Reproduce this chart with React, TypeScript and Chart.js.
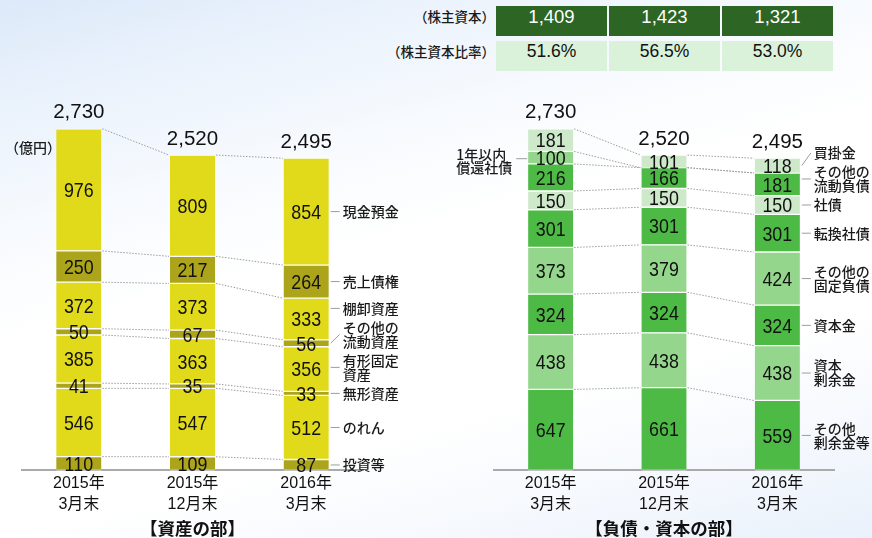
import React, { useEffect, useRef } from "react";
import { Chart, registerables } from "chart.js";

Chart.register(...registerables);

// ---------------- data ----------------
const periodLabels = [
  ["2015年", "3月末"],
  ["2015年", "12月末"],
  ["2016年", "3月末"],
];

const equityValues = [1409, 1423, 1321];
const equityRatios = [51.6, 56.5, 53.0];

// 資産の部 (bottom -> top)
const investments = [110, 109, 87];
const goodwill = [546, 547, 512];
const intangibleAssets = [41, 35, 33];
const tangibleAssets = [385, 363, 356];
const otherCurrentAssets = [50, 67, 56];
const inventories = [372, 373, 333];
const receivables = [250, 217, 264];
const cashDeposits = [976, 809, 854];
const totalAssets = [2730, 2520, 2495];

// 負債・資本の部 (bottom -> top)
const otherSurplus = [647, 661, 559];
const capitalSurplus = [438, 438, 438];
const capitalStock = [324, 324, 324];
const otherFixedLiabilities = [373, 379, 424];
const convertibleBonds = [301, 301, 301];
const bonds = [150, 150, 150];
const otherCurrentLiabilities = [216, 166, 181];
const currentBonds = [100, 0, 0];
const payables = [181, 101, 118];
const totalLiabEquity = [2730, 2520, 2495];

// ---------------- styles ----------------
const YELLOW = "#e0da1b";
const OLIVE = "#aca41a";
const PALE = "#cde9ca";
const MID = "#95d68d";
const GREEN = "#4dba46";

type Series = { name: string; data: number[]; color: string; side?: "left" | "right" };

const assetSeries: Series[] = [
  { name: "投資等", data: investments, color: OLIVE },
  { name: "のれん", data: goodwill, color: YELLOW },
  { name: "無形資産", data: intangibleAssets, color: OLIVE },
  { name: "有形固定\n資産", data: tangibleAssets, color: YELLOW },
  { name: "その他の\n流動資産", data: otherCurrentAssets, color: OLIVE },
  { name: "棚卸資産", data: inventories, color: YELLOW },
  { name: "売上債権", data: receivables, color: OLIVE },
  { name: "現金預金", data: cashDeposits, color: YELLOW },
];

const liabSeries: Series[] = [
  { name: "その他\n剰余金等", data: otherSurplus, color: GREEN },
  { name: "資本\n剰余金", data: capitalSurplus, color: MID },
  { name: "資本金", data: capitalStock, color: GREEN },
  { name: "その他の\n固定負債", data: otherFixedLiabilities, color: MID },
  { name: "転換社債", data: convertibleBonds, color: GREEN },
  { name: "社債", data: bonds, color: PALE },
  { name: "その他の\n流動負債", data: otherCurrentLiabilities, color: GREEN },
  { name: "1年以内\n償還社債", data: currentBonds, color: MID, side: "left" },
  { name: "買掛金", data: payables, color: PALE },
];

const JP = "'Noto Sans CJK JP', 'Noto Sans', sans-serif";
const NUM = "'Liberation Sans', Arial, 'Noto Sans CJK JP', sans-serif";

function hasNarrow(): boolean {
  try {
    const c = document.createElement("canvas").getContext("2d");
    if (!c) return false;
    c.font = "40px 'Liberation Sans Narrow', monospace";
    const a = c.measureText("0123456789").width;
    c.font = "40px monospace";
    const b = c.measureText("0123456789").width;
    return Math.abs(a - b) > 0.5;
  } catch (e) {
    return false;
  }
}

function makeDecor(series: Series[], totals: number[], title: string, unit: string | null, narrow: boolean) {
  return {
    id: "decor",
    afterDatasetsDraw(chart: any) {
      const ctx: CanvasRenderingContext2D = chart.ctx;
      const n = chart.data.labels.length;
      const metas = series.map((_, d) => chart.getDatasetMeta(d));
      const els = metas.map((m: any) =>
        m.data.map((e: any) => e.getProps(["x", "y", "base", "width"], true))
      );
      ctx.save();

      // dotted connectors
      ctx.strokeStyle = "#9c9c9c";
      ctx.lineWidth = 1;
      ctx.setLineDash([1.5, 1.5]);
      els.forEach((row: any[]) => {
        for (let i = 0; i < n - 1; i++) {
          const a = row[i];
          const b = row[i + 1];
          ctx.beginPath();
          ctx.moveTo(a.x + a.width / 2 + 1, a.y);
          ctx.lineTo(b.x - b.width / 2 - 1, b.y);
          ctx.stroke();
        }
      });
      ctx.setLineDash([]);

      // segment values
      ctx.fillStyle = "#111";
      ctx.textAlign = "center";
      ctx.textBaseline = "middle";
      ctx.font = narrow ? "21px 'Liberation Sans Narrow', sans-serif" : `21px ${NUM}`;
      series.forEach((s, d) => {
        s.data.forEach((v, i) => {
          if (!v) return;
          const e = els[d][i];
          const cy = (e.y + e.base) / 2 + 1.5;
          ctx.save();
          ctx.translate(e.x, cy);
          if (!narrow) ctx.scale(0.85, 1);
          ctx.fillText(String(v), 0, 0);
          ctx.restore();
        });
      });

      // totals
      ctx.font = `20.5px ${NUM}`;
      ctx.fillStyle = "#111";
      for (let i = 0; i < n; i++) {
        let top = Infinity;
        let x = 0;
        els.forEach((row: any[]) => {
          if (row[i].y < top) top = row[i].y;
          x = row[i].x;
        });
        ctx.fillText(totals[i].toLocaleString("en-US"), x, top - 16);
      }

      // right-side labels (last bar)
      const LH = 14;
      const GAP = 5;
      const last = n - 1;
      const items: any[] = [];
      series.forEach((s, d) => {
        if (s.side === "left") return;
        const v = s.data[last];
        if (!v) return;
        const e = els[d][last];
        const lines = s.name.split("\n");
        items.push({ e, lines, mid: (e.y + e.base) / 2, h: lines.length * LH });
      });
      items.sort((a, b) => b.mid - a.mid);
      let prevTop: number | null = null;
      items.forEach((it) => {
        let cy = it.mid;
        if (prevTop !== null) cy = Math.min(cy, prevTop - GAP - it.h / 2);
        it.cy = cy;
        prevTop = cy - it.h / 2;
      });
      ctx.font = `500 14px ${JP}`;
      ctx.textAlign = "left";
      items.forEach((it) => {
        const xr = it.e.x + it.e.width / 2;
        const inside = it.cy >= it.e.y && it.cy <= it.e.base;
        ctx.strokeStyle = "#9c9c9c";
        ctx.lineWidth = 1;
        ctx.beginPath();
        ctx.moveTo(xr + 2, inside ? it.cy : it.mid);
        ctx.lineTo(xr + 11, it.cy);
        ctx.stroke();
        ctx.fillStyle = "#1a1a1a";
        it.lines.forEach((ln: string, k: number) => {
          ctx.fillText(ln, xr + 14, it.cy + (k - (it.lines.length - 1) / 2) * LH);
        });
      });

      // left-side labels (first bar)
      series.forEach((s, d) => {
        if (s.side !== "left") return;
        const e = els[d][0];
        const mid = (e.y + e.base) / 2;
        const xl = e.x - e.width / 2;
        ctx.strokeStyle = "#9c9c9c";
        ctx.beginPath();
        ctx.moveTo(xl - 1, mid + 1);
        ctx.lineTo(xl - 12, mid + 1);
        ctx.stroke();
        const lines = s.name.split("\n");
        const w = Math.max(...lines.map((l) => ctx.measureText(l).width));
        ctx.fillStyle = "#1a1a1a";
        ctx.textAlign = "left";
        lines.forEach((ln, k) => {
          ctx.fillText(ln, xl - 16 - w, mid + 3 + (k - (lines.length - 1) / 2) * 13);
        });
      });

      // unit label
      if (unit) {
        ctx.font = `500 14px ${JP}`;
        ctx.fillStyle = "#1a1a1a";
        ctx.textAlign = "left";
        ctx.fillText(unit, 5, 148);
      }

      // section title
      const ca = chart.chartArea;
      ctx.font = `bold 17.5px ${JP}`;
      ctx.fillStyle = "#111";
      ctx.textAlign = "center";
      ctx.fillText(title, (ca.left + ca.right) / 2, 528);

      ctx.restore();
    },
  };
}

function buildChart(
  canvas: HTMLCanvasElement,
  series: Series[],
  totals: number[],
  title: string,
  unit: string | null,
  padLeft: number,
  padRight: number,
  narrow: boolean
) {
  return new Chart(canvas, {
    type: "bar",
    data: {
      labels: periodLabels as any,
      datasets: series.map((s) => ({
        label: s.name,
        data: s.data,
        backgroundColor: s.color,
        borderColor: "#ffffff",
        borderWidth: { top: 1, bottom: 1, left: 0, right: 0 } as any,
        borderSkipped: false as any,
        barThickness: 45,
      })),
    },
    options: {
      animation: false,
      responsive: false,
      maintainAspectRatio: false,
      layout: { padding: { left: padLeft, right: padRight, top: 95, bottom: 20 } },
      plugins: {
        legend: { display: false },
        tooltip: { enabled: false },
        title: { display: false },
      },
      scales: {
        x: {
          stacked: true,
          grid: { display: false, drawTicks: false },
          border: { display: true, color: "#aaaaaa", width: 2 },
          ticks: {
            color: "#111",
            font: { family: NUM, size: 16, lineHeight: 1.3 },
            padding: 3,
            maxRotation: 0,
            autoSkip: false,
          },
        },
        y: { stacked: true, display: false, min: 0, max: 3000 },
      },
    },
    plugins: [makeDecor(series, totals, title, unit, narrow) as any],
  });
}

export default function App() {
  const leftRef = useRef<HTMLCanvasElement>(null);
  const rightRef = useRef<HTMLCanvasElement>(null);

  useEffect(() => {
    const narrow = hasNarrow();
    const c1 = buildChart(leftRef.current!, assetSeries, totalAssets, "【資産の部】", "（億円）", 22, 73, narrow);
    const c2 = buildChart(rightRef.current!, liabSeries, totalLiabEquity, "【負債・資本の部】", null, 58, 38, narrow);
    return () => {
      c1.destroy();
      c2.destroy();
    };
  }, []);

  const rowLabel: React.CSSProperties = {
    position: "absolute",
    left: 0,
    width: 495,
    height: 30,
    lineHeight: "30px",
    textAlign: "right",
    font: `500 13.5px ${JP}`,
    color: "#1a1a1a",
  };

  return (
    <div
      style={{
        position: "fixed",
        left: 0,
        top: 0,
        width: 872,
        height: 538,
        overflow: "hidden",
        background:
          "linear-gradient(165deg, #dde9f9 0%, #eaf2fc 14%, #f7fafe 30%, #ffffff 45%, #ffffff 70%, #f3f7fd 88%, #e9f1fb 100%)",
      }}
    >
      <div style={{ ...rowLabel, top: 6 }}>（株主資本）</div>
      <div style={{ ...rowLabel, top: 41 }}>（株主資本比率）</div>
      {equityValues.map((v, i) => (
        <div
          key={"v" + i}
          style={{
            position: "absolute",
            left: 496 + i * 113,
            top: 6,
            width: 111,
            height: 30,
            lineHeight: "31px",
            textAlign: "center",
            background: "#2d6524",
            color: "#ffffff",
            font: `18.5px ${NUM}`,
          }}
        >
          {v.toLocaleString("en-US")}
        </div>
      ))}
      {equityRatios.map((v, i) => (
        <div
          key={"r" + i}
          style={{
            position: "absolute",
            left: 496 + i * 113,
            top: 41,
            width: 111,
            height: 30,
            lineHeight: "31px",
            textAlign: "center",
            background: "#daf2da",
            color: "#111",
            font: `17.5px ${NUM}`,
          }}
        >
          {v.toFixed(1) + "%"}
        </div>
      ))}
      <canvas ref={leftRef} width={436} height={538} style={{ position: "absolute", left: 0, top: 0 }} />
      <canvas ref={rightRef} width={436} height={538} style={{ position: "absolute", left: 436, top: 0 }} />
    </div>
  );
}
